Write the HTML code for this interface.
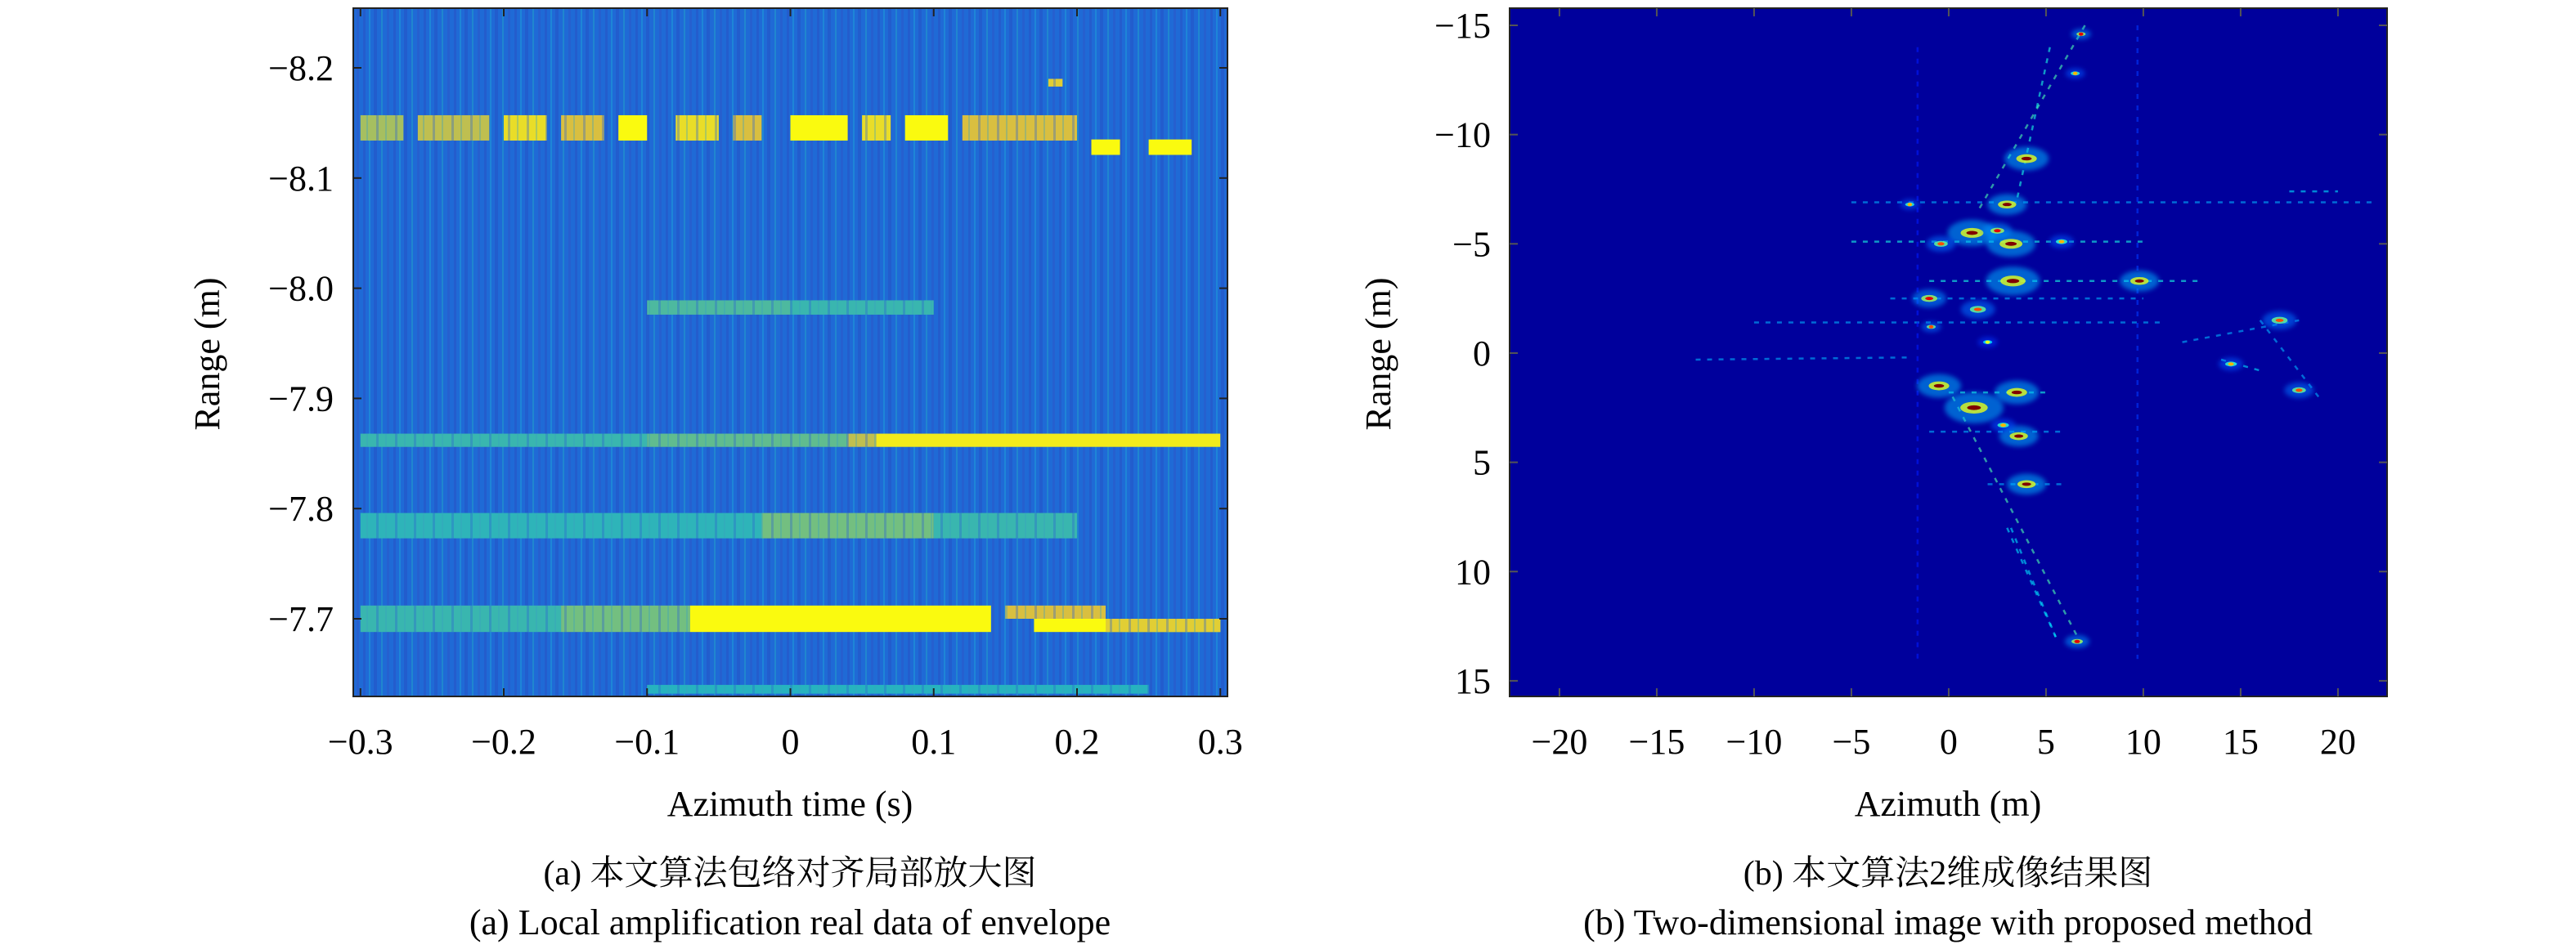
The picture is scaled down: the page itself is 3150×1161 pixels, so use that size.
<!DOCTYPE html>
<html><head><meta charset="utf-8"><style>
html,body{margin:0;padding:0;background:#fff;}
svg{display:block;}
text{font-family:"Liberation Serif","DejaVu Serif","Noto Serif CJK SC",serif;fill:#000;}
</style></head><body>
<svg id="fig" width="3150" height="1161" viewBox="0 0 3150 1161" xmlns="http://www.w3.org/2000/svg">
<defs>
<pattern id="stripes" x="0" y="0" width="37" height="22" patternUnits="userSpaceOnUse">
<rect x="0" y="0" width="3" height="22" fill="#2a4fc4" opacity="0.5"/>
<rect x="7" y="0" width="2" height="22" fill="#1d9fd8" opacity="0.5"/>
<rect x="13" y="0" width="4" height="22" fill="#2648c0" opacity="0.4"/>
<rect x="22" y="0" width="2" height="22" fill="#22a8c8" opacity="0.45"/>
<rect x="29" y="0" width="3" height="22" fill="#2e55c8" opacity="0.5"/>
</pattern>
<pattern id="cellstripes" x="0" y="0" width="23" height="30" patternUnits="userSpaceOnUse">
<rect x="0" y="0" width="3" height="30" fill="#2a60d0" opacity="0.35"/>
<rect x="11" y="0" width="2" height="30" fill="#3aa0c0" opacity="0.35"/>
</pattern>
<filter id="glow" x="-50%" y="-50%" width="200%" height="200%"><feGaussianBlur stdDeviation="3"/></filter>
</defs>
<g id="left"></g>
<g id="right"></g>
</svg>
<script>
// ---- Left chart data (range in m, azimuth time in s) ----
const leftXTicks = [-0.3,-0.2,-0.1,0,0.1,0.2,0.3];
const leftXTickLabels = ["\u22120.3","\u22120.2","\u22120.1","0","0.1","0.2","0.3"];
const leftYTicks = [-8.2,-8.1,-8.0,-7.9,-7.8,-7.7];
const leftYTickLabels = ["\u22128.2","\u22128.1","\u22128.0","\u22127.9","\u22127.8","\u22127.7"];
// band cells: range start, range end, time start, time end, level (0..1)
const cellR0 = [-8.157,-8.157,-8.157,-8.157,-8.157,-8.157,-8.157,-8.157,-8.157,-8.157,-8.157,-8.135,-8.135,-7.989,-7.989,-7.868,-7.868,-7.868,-7.868,-7.796,-7.796,-7.796,-7.712,-7.712,-7.712,-7.712,-7.700,-7.700,-8.190,-7.640];
const cellR1 = [-8.134,-8.134,-8.134,-8.134,-8.134,-8.134,-8.134,-8.134,-8.134,-8.134,-8.134,-8.121,-8.121,-7.976,-7.976,-7.856,-7.856,-7.856,-7.856,-7.773,-7.773,-7.773,-7.688,-7.688,-7.688,-7.700,-7.688,-7.688,-8.183,-7.632];
const cellT0 = [-0.30,-0.26,-0.20,-0.16,-0.12,-0.08,-0.04,0.00,0.05,0.08,0.12,0.21,0.25,-0.10,0.00,-0.30,-0.10,0.04,0.06,-0.30,-0.02,0.10,-0.30,-0.16,-0.07,0.15,0.17,0.22,0.18,-0.10];
const cellT1 = [-0.27,-0.21,-0.17,-0.13,-0.10,-0.05,-0.02,0.04,0.07,0.11,0.20,0.23,0.28,0.00,0.10,-0.10,0.04,0.06,0.30,-0.02,0.10,0.20,-0.16,-0.07,0.14,0.22,0.30,0.30,0.19,0.25];
const cellLevel = [0.7,0.75,0.9,0.8,1.0,0.9,0.8,1.0,0.9,1.0,0.8,1.0,1.0,0.5,0.45,0.45,0.55,0.75,0.95,0.42,0.6,0.45,0.45,0.6,1.0,0.8,1.0,0.85,0.85,0.4];

// ---- Right chart data (azimuth m, range m) ----
const rightXTicks = [-20,-15,-10,-5,0,5,10,15,20];
const rightXTickLabels = ["\u221220","\u221215","\u221210","\u22125","0","5","10","15","20"];
const rightYTicks = [-15,-10,-5,0,5,10,15];
const rightYTickLabels = ["\u221215","\u221210","\u22125","0","5","10","15"];
// streak lines
const lineAz0 = [7.0,5.2,-5,-5,-1,-3,-10,-13,12,14,0,-1,2,3,-1.6,9.7,0.2,3.2,16,17.5];
const lineR0  = [-15,-14,-6.9,-5.1,-3.3,-2.5,-1.4,0.3,-0.5,0.3,1.8,3.6,6,8,-14,-15,2,8,-1.5,-7.4];
const lineAz1 = [1.5,3.5,22,10,13,10,11,-2,18,16,5,6,6,5.5,-1.6,9.7,6.8,5.5,19,20];
const lineR1  = [-6.5,-7,-6.9,-5.1,-3.3,-2.5,-1.4,0.2,-1.5,0.8,1.8,3.6,6,13,14,14,13.3,13,2,-7.4];
const lineV   = [0.45,0.4,0.3,0.4,0.4,0.3,0.3,0.3,0.3,0.35,0.4,0.3,0.3,0.35,0.15,0.18,0.45,0.35,0.3,0.35];
// hot spots
const spotAz = [6.8,4.0,3.0,1.2,3.2,-0.4,3.3,9.8,-1.0,1.5,-0.5,1.3,3.5,3.6,4.0,6.6,17.0,18.0,6.5,2.5,5.8,-0.9,14.5,2.0,2.8,-2];
const spotR  = [-14.6,-8.9,-6.8,-5.5,-5.0,-5.0,-3.3,-3.3,-2.5,-2.0,1.5,2.5,1.8,3.8,6.0,13.2,-1.5,1.7,-12.8,-5.6,-5.1,-1.2,0.5,-0.5,3.3,-6.8];
const spotV  = [0.9,1.0,1.0,1.0,1.0,0.8,1.0,1.0,0.9,0.8,1.0,1.0,1.0,1.0,1.0,0.9,0.8,0.8,0.7,0.9,0.7,0.8,0.7,0.6,0.7,0.7];
const spotSize=[8,18,16,20,20,12,22,16,14,14,18,24,18,16,16,10,14,12,8,12,10,8,10,8,10,8];

const NS="http://www.w3.org/2000/svg";
function el(tag,attrs,parent){const e=document.createElementNS(NS,tag);for(const k in attrs)e.setAttribute(k,attrs[k]);parent.appendChild(e);return e;}
function parula(v){const s=[[0.21,0.40,0.85],[0.13,0.55,0.85],[0.15,0.70,0.75],[0.45,0.75,0.50],[0.85,0.75,0.25],[0.98,0.98,0.06]];
  const f=Math.max(0,Math.min(1,v))*(s.length-1);const i=Math.min(s.length-2,Math.floor(f));const t=f-i;
  const c=s[i].map((a,j)=>Math.round(255*(a+(s[i+1][j]-a)*t)));return `rgb(${c[0]},${c[1]},${c[2]})`;}
function jet(v){const r=Math.max(0,Math.min(1,1.5-Math.abs(4*v-3))),g=Math.max(0,Math.min(1,1.5-Math.abs(4*v-2))),b=Math.max(0,Math.min(1,1.5-Math.abs(4*v-1)));
  return `rgb(${Math.round(r*255)},${Math.round(g*255)},${Math.round(b*255)})`;}
const FF='"Liberation Serif","DejaVu Serif","Noto Serif CJK SC",serif';

// ---- Left chart ----
(function(){
const g=document.getElementById('left');
const L=432,R=1501,T=10,B=852;
const xs=t=>L+(t+0.305)/0.61*(R-L);
const ys=r=>83+(r+8.2)*1348;
const bg=el('rect',{x:L,y:T,width:R-L,height:B-T,fill:'#1f6ad6'},g);


const tex=el('rect',{x:L,y:T,width:R-L,height:B-T,fill:'url(#stripes)'},g);


for(let i=0;i<cellR0.length;i++){
  const y0=Math.max(T,ys(cellR0[i])),y1=Math.min(B,ys(cellR1[i]));
  const x0=xs(cellT0[i]),w=xs(cellT1[i])-xs(cellT0[i]);
  const c=el('rect',{x:x0,y:y0,width:w,height:y1-y0,fill:parula(cellLevel[i])},g);
  
  
  if(cellLevel[i]<0.95){const s=el('rect',{x:x0,y:y0,width:w,height:y1-y0,fill:'url(#cellstripes)'},g);
  
  }
}
const fr=el('rect',{x:L,y:T,width:R-L,height:B-T,fill:'none',stroke:'#222',"stroke-width":2},g);


leftXTicks.forEach((v,i)=>{const x=xs(v);
  el('line',{x1:x,y1:B,x2:x,y2:B-10,stroke:'#222','stroke-width':2},g);
  el('line',{x1:x,y1:T,x2:x,y2:T+10,stroke:'#222','stroke-width':2},g);
  const t=el('text',{x:x,y:922,'font-size':44,'text-anchor':'middle','font-family':FF},g);t.textContent=leftXTickLabels[i];
  
  });
leftYTicks.forEach((v,i)=>{const y=ys(v);
  el('line',{x1:L,y1:y,x2:L+10,y2:y,stroke:'#222','stroke-width':2},g);
  el('line',{x1:R,y1:y,x2:R-10,y2:y,stroke:'#222','stroke-width':2},g);
  const t=el('text',{x:408,y:y+15,'font-size':44,'text-anchor':'end','font-family':FF},g);t.textContent=leftYTickLabels[i];
  
  });
let t=el('text',{x:966,y:998,'font-size':44,'text-anchor':'middle','font-family':FF},g);t.textContent='Azimuth time (s)';


t=el('text',{x:0,y:0,'font-size':44,'text-anchor':'middle','font-family':FF,transform:'translate(268,433) rotate(-90)'},g);t.textContent='Range (m)';


t=el('text',{x:966,y:1082,'font-size':42,'text-anchor':'middle','font-family':FF},g);t.textContent='(a) 本文算法包络对齐局部放大图';


t=el('text',{x:966,y:1143,'font-size':44,'text-anchor':'middle','font-family':FF},g);t.textContent='(a) Local amplification real data of envelope';


})();

// ---- Right chart ----
(function(){
const g=document.getElementById('right');
const L=1846,R=2919,T=10,B=852;
const xs=a=>L+(a+22.56)*23.8;
const ys=r=>31+(r+15)*26.73;
const bg=el('rect',{x:L,y:T,width:R-L,height:B-T,fill:'#00009c'},g);


for(let i=0;i<lineAz0.length;i++){
  const l=el('line',{x1:xs(lineAz0[i]),y1:ys(lineR0[i]),x2:xs(lineAz1[i]),y2:ys(lineR1[i]),stroke:jet(lineV[i]),'stroke-width':2.5,opacity:0.6,'stroke-dasharray':'6 8'},g);
  
  
}
for(let i=0;i<spotAz.length;i++){
  const cx=xs(spotAz[i]),cy=ys(spotR[i]),s=spotSize[i],v=spotV[i];
  const h=el('ellipse',{cx:cx,cy:cy,rx:s*1.5,ry:s*0.8,fill:jet(v*0.3),opacity:0.55,filter:'url(#glow)'},g);
  
  
  const m=el('ellipse',{cx:cx,cy:cy,rx:s*0.7,ry:s*0.3,fill:jet(v*0.6),opacity:0.8},g);
  
  
  const c=el('ellipse',{cx:cx,cy:cy,rx:s*0.35,ry:Math.max(2,s*0.12),fill:jet(v)},g);
  
  
}
const fr=el('rect',{x:L,y:T,width:R-L,height:B-T,fill:'none',stroke:'#222','stroke-width':2},g);


rightXTicks.forEach((v,i)=>{const x=xs(v);
  el('line',{x1:x,y1:B,x2:x,y2:B-10,stroke:'#555','stroke-width':2},g);
  el('line',{x1:x,y1:T,x2:x,y2:T+10,stroke:'#555','stroke-width':2},g);
  const t=el('text',{x:x,y:922,'font-size':44,'text-anchor':'middle','font-family':FF},g);t.textContent=rightXTickLabels[i];
  
  });
rightYTicks.forEach((v,i)=>{const y=ys(v);
  el('line',{x1:L,y1:y,x2:L+10,y2:y,stroke:'#555','stroke-width':2},g);
  el('line',{x1:R,y1:y,x2:R-10,y2:y,stroke:'#555','stroke-width':2},g);
  const t=el('text',{x:1823,y:y+15,'font-size':44,'text-anchor':'end','font-family':FF},g);t.textContent=rightYTickLabels[i];
  
  });
let t=el('text',{x:2382,y:998,'font-size':44,'text-anchor':'middle','font-family':FF},g);t.textContent='Azimuth (m)';


t=el('text',{x:0,y:0,'font-size':44,'text-anchor':'middle','font-family':FF,transform:'translate(1700,433) rotate(-90)'},g);t.textContent='Range (m)';


t=el('text',{x:2382,y:1082,'font-size':42,'text-anchor':'middle','font-family':FF},g);t.textContent='(b) 本文算法2维成像结果图';


t=el('text',{x:2382,y:1143,'font-size':44,'text-anchor':'middle','font-family':FF},g);t.textContent='(b) Two-dimensional image with proposed method';


})();
</script>
</body></html>
